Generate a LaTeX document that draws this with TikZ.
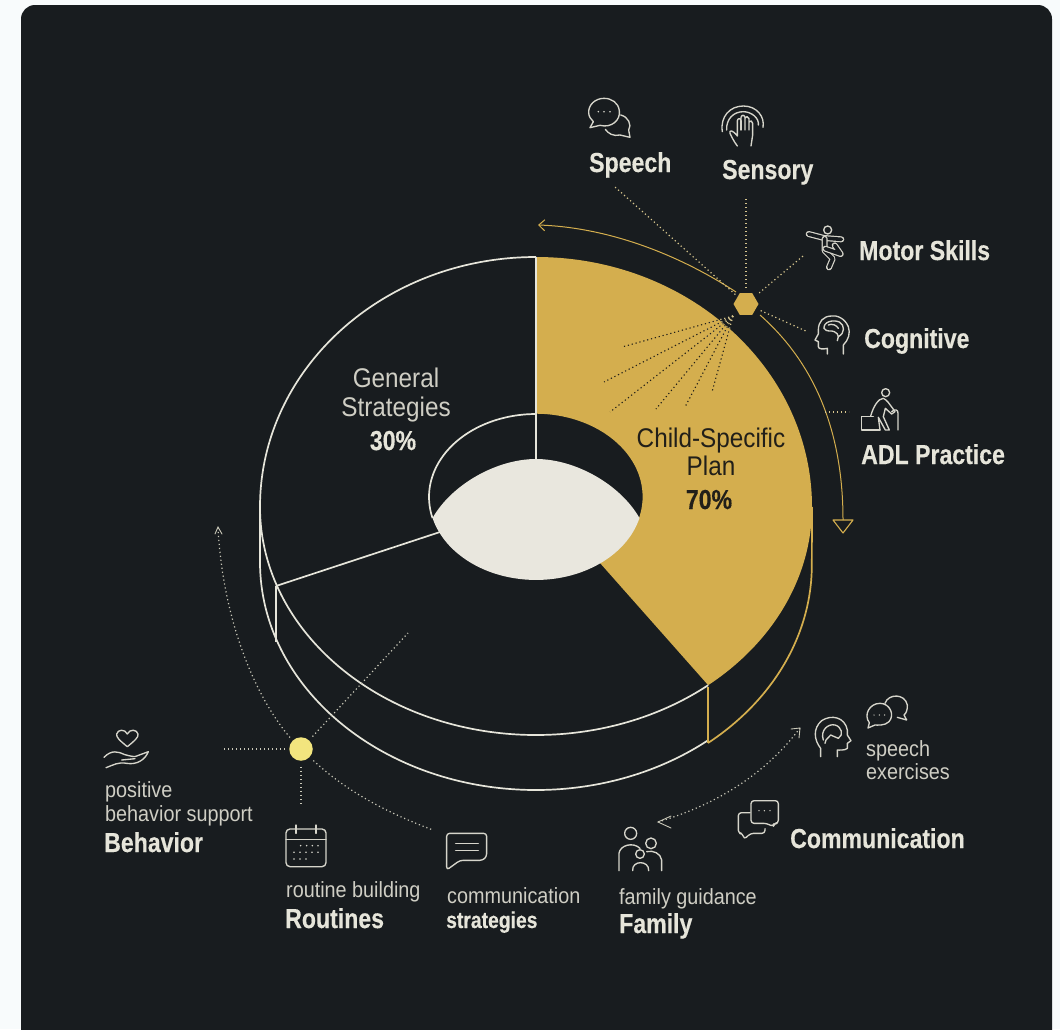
\documentclass[tikz,border=0pt]{standalone}
\usepackage{fontspec}
\setmainfont[FakeStretch=0.9,BoldFeatures={FakeStretch=0.84,FakeBold=0.35}]{Liberation Sans}
\usetikzlibrary{arrows.meta,shapes.geometric,calc}
\definecolor{pagebg}{HTML}{F8FBFC}
\definecolor{panel}{HTML}{181C1F}
\definecolor{gold}{HTML}{D4AE4E}
\definecolor{cream}{HTML}{E6E5DA}
\definecolor{softtext}{HTML}{CFCEC4}
\definecolor{lens}{HTML}{E9E7DE}
\definecolor{ink}{HTML}{211F19}
\definecolor{palegold}{HTML}{D8C68E}
\definecolor{paledot}{HTML}{C9C8B8}
\definecolor{sun}{HTML}{F2E57E}
\definecolor{iconline}{HTML}{D6D5CB}
\tikzset{
  big/.style={font=\fontsize{27.5}{30}\selectfont\bfseries,text=cream,inner sep=0pt,anchor=base west},
  small/.style={font=\fontsize{22}{24}\selectfont,text=softtext,inner sep=0pt,anchor=base west},
  smallbold/.style={font=\fontsize{23}{25}\selectfont\bfseries,text=cream,inner sep=0pt,anchor=base west},
  mid/.style={font=\fontsize{27}{30}\selectfont,inner sep=0pt,anchor=base},
  midbold/.style={font=\fontsize{27.5}{30}\selectfont\bfseries,inner sep=0pt,anchor=base},
  rim/.style={draw=cream,line width=1.7pt},
  goldrim/.style={draw=gold,line width=1.7pt},
  dotA/.style={draw=palegold,line width=1.2pt,dash pattern=on 1.2pt off 2.8pt},
  dotB/.style={draw=paledot,line width=1.2pt,dash pattern=on 1.2pt off 2.8pt},
  icon/.style={draw=iconline,line width=1.35pt,line cap=round,line join=round},
  limb/.style={draw=iconline,line width=1.2pt,double=panel,double distance=3.6pt,line cap=round,line join=round},
  zoomA/.style={shift={(530,80)},x=0.33333pt,y=-0.33333pt},
  zoomB/.style={shift={(80,680)},x=0.33333pt,y=-0.33333pt},
  zoomC/.style={shift={(590,660)},x=0.33333pt,y=-0.33333pt},
}
\begin{document}
\begin{tikzpicture}[x=1pt,y=-1pt]
\useasboundingbox (0,0) rectangle (1060,1029);
\fill[pagebg] (0,0) rectangle (1060,1029);
\fill[panel,rounded corners=14pt] (21,5) rectangle (1052,1060);

% gold sector
\def\goldshape{(536,257) arc[x radius=276,y radius=250,start angle=270,end angle=360]
  arc[x radius=276,y radius=228,start angle=0,end angle=51.4]
  -- (600,563)
  arc[x radius=107,y radius=83,start angle=53,end angle=-90] -- cycle}
\fill[gold] \goldshape;

% rays inside the gold sector
\coordinate (rayhub) at (733,316);
\foreach \ex/\ey in {622/347,604/382,610/412,656/409,685/407,712/392}{
  \draw[dotA] (rayhub) -- ($(rayhub)!0.22!(\ex,\ey)$);
}
\begin{scope}
  \clip \goldshape;
  \foreach \ex/\ey in {622/347,604/382,610/412,656/409,685/407,712/392}{
    \draw[line width=1.1pt,draw=ink,dash pattern=on 1.2pt off 2.8pt] (rayhub) -- (\ex,\ey);
  }
\end{scope}

% disc outlines
\draw[rim] (536,257) arc[x radius=276,y radius=250,start angle=270,end angle=180]
  arc[x radius=276,y radius=228,start angle=180,end angle=51.4];
\draw[rim] (260,507) -- (260,562) arc[x radius=276,y radius=228,start angle=180,end angle=51.4];
\draw[goldrim] (708,743) arc[x radius=276,y radius=228,start angle=51.4,end angle=0] -- (812,507);
\draw[goldrim] (708,687) -- (708,743);
\draw[rim] (276,586) -- (276,642);
\draw[rim] (276,586) -- (440,532);
\draw[rim] (536,257) -- (536,459);
\draw[rim] (536,414) arc[x radius=107,y radius=83,start angle=270,end angle=165.3];

% centre lens
\fill[lens] (639.5,518) arc[x radius=107,y radius=83,start angle=14.7,end angle=165.3]
  .. controls (452,484) and (497,459) .. (536,459) .. controls (575,459) and (620,484) .. cycle;

% sector labels
\node[mid,text=softtext] (lgen) at (396,387) {General};
\node[mid,text=softtext] (lstr) at (396,416) {Strategies};
\node[midbold,text=cream] (l30) at (393,450) {30\%};
\node[mid,text=ink] (lchild) at (711,447) {Child-Specific};
\node[mid,text=ink] (lplan) at (711,475) {Plan};
\node[midbold,text=ink] (l70) at (709,509) {70\%};

% hubs
\node[regular polygon,regular polygon sides=6,minimum size=25pt,inner sep=0pt,fill=gold] (hubA) at (746,304) {};
\node[circle,minimum size=23.5pt,inner sep=0pt,fill=sun] (hubB) at (301,749) {};

% gold direction arcs
\coordinate (arcAstart) at (736,292);
\coordinate (arcBstart) at (760,315);
\draw[draw=gold,line width=1pt,-{Straight Barb[length=6pt,width=11pt]}]
  (arcAstart) .. controls (670,249) and (600,227) .. (538,225);
\draw[draw=gold,line width=1pt] (arcBstart) .. controls (820,368) and (843,440) .. (843,520);
\coordinate (triA) at (833,520);\coordinate (triB) at (853,520);\coordinate (triC) at (843,533);
\draw[draw=gold,line width=1.1pt,line join=round] (triA) -- (triB) -- (triC) -- cycle;

% hub A connectors
\coordinate (cSpeech) at (615,187);
\coordinate (cSensory) at (746,197);
\coordinate (cMotor) at (803,256);
\coordinate (cCog) at (808,332);
\coordinate (cAdlA) at (825,412);
\coordinate (cAdlB) at (849,412);
\draw[dotA,shorten <=3pt] (hubA) -- (cSpeech);
\draw[dotA,shorten <=5pt] (hubA) -- (cSensory);
\draw[dotA,shorten <=6pt] (hubA) -- (cMotor);
\draw[dotA,shorten <=5pt] (hubA) -- (cCog);
\draw[dotA] (cAdlA) -- (cAdlB);

% hub B connectors
\coordinate (cBeh) at (224,749);
\coordinate (cRou) at (301,806);
\coordinate (cCom) at (433,830);
\coordinate (cDisc) at (408,633);
\coordinate (cUp) at (218,527);
\draw[dotB,shorten <=4pt] (hubB) -- (cBeh);
\draw[dotB,shorten <=6pt] (hubB) -- (cRou);
\draw[dotB,shorten <=5pt] (hubB) .. controls (345,790) and (385,812) .. (cCom);
\draw[dotB,shorten <=5pt] (hubB) -- (cDisc);
\draw[dotB,shorten <=4pt] (hubB.135) .. controls (250,690) and (222,610) .. (cUp);
\draw[draw=paledot,line width=0.9pt,line cap=round] (215,534) -- (cUp) -- (222,534);

% family / speech double arrow
\coordinate (dblA) at (800,728);
\coordinate (dblB) at (658,822);
\draw[dotB] (dblA) .. controls (765,775) and (715,805) .. (dblB);
\draw[draw=paledot,line width=0.9pt,line cap=round] (791,729) -- (dblA) -- (799,738);
\draw[draw=paledot,line width=0.9pt,line cap=round] (671,816) -- (dblB) -- (671,828);

% labels
\node[big] (tSpeech) at (589,172) {Speech};
\node[big] (tSensory) at (722,179) {Sensory};
\node[big] (tMotor) at (859,260) {Motor Skills};
\node[big] (tCog) at (864,348) {Cognitive};
\node[big] (tAdl) at (861,464) {ADL Practice};
\node[small] (tPos) at (105,797) {positive};
\node[small] (tPbs) at (105,821) {behavior support};
\node[big] (tBeh) at (104,852) {Behavior};
\node[small] (tRb) at (286,897) {routine building};
\node[big] (tRou) at (285,928) {Routines};
\node[small] (tCs) at (447,903) {communication};
\node[smallbold] (tStr) at (446,928) {strategies};
\node[small] (tSp) at (866,756) {speech};
\node[small] (tEx) at (866,779) {exercises};
\node[big] (tComm) at (790,848) {Communication};
\node[small] (tFg) at (619,904) {family guidance};
\node[big] (tFam) at (619,933) {Family};

% icons, upper right
\begin{scope}[zoomA]
  % speech
  \draw[icon] (210,136) .. controls (245,145) and (272,120) .. (268,92) .. controls (265,68) and (245,55) .. (222,55)
    .. controls (195,55) and (175,75) .. (176,98) .. controls (176,108) and (182,118) .. (190,125) -- (180,143) -- cycle;
  \draw[icon] (272,105) .. controls (295,110) and (306,135) .. (296,150) -- (300,172) -- (270,165) .. controls (250,170) and (234,160) .. (226,148);
  \foreach \q in {205,222,240} \fill[iconline] (\q,95) circle[radius=2.6];
  % sensory
  \draw[icon] (577,155) .. controls (570,110) and (600,78) .. (640,78) .. controls (680,78) and (705,110) .. (699,142);
  \draw[icon] (590,150) .. controls (588,118) and (610,95) .. (640,95) .. controls (665,95) and (688,115) .. (685,135);
  \draw[icon] (622,198) .. controls (610,182) and (605,170) .. (600,160) .. controls (597,150) and (607,148) .. (622,168)
    -- (622,122) .. controls (623,114) and (632,114) .. (633,122) -- (633,112) .. controls (635,104) and (643,104) .. (645,112)
    -- (645,150) -- (645,114) .. controls (647,108) and (655,108) .. (657,116) -- (657,150) -- (657,126) .. controls (660,120) and (668,122) .. (668,130)
    -- (668,165) -- (663,198);
  \draw[icon] (633,122) -- (633,150);
  % motor skills
  \draw[icon] (893,450) circle[radius=12];
  \draw[limb] (836,462) -- (882,474) -- (934,478);
  \draw[limb] (884,476) -- (884,512) -- (908,536) -- (897,562);
  \draw[limb] (886,506) -- (932,522) -- (914,496);
  % cognitive
  \draw[icon] (940,822) -- (940,795) .. controls (955,780) and (962,760) .. (955,740) .. controls (945,715) and (920,705) .. (905,708)
    .. controls (880,708) and (865,725) .. (865,750) -- (865,762) -- (855,780) -- (865,785) -- (865,800) .. controls (865,808) and (880,808) .. (892,805) -- (892,822);
  \draw[icon] (882,745) .. controls (880,725) and (910,718) .. (928,726) .. controls (945,735) and (945,760) .. (925,770) -- (922,782);
  \draw[icon] (882,745) .. controls (890,758) and (905,750) .. (913,755) .. controls (920,760) and (925,762) .. (925,770);
  \draw[icon] (895,735) .. controls (905,730) and (920,735) .. (925,745);
  % ADL
  \draw[icon] (1067,938) circle[radius=12];
  \draw[icon] (995,1050) -- (995,1010) -- (1030,1010) (995,1050) -- (1050,1050);
  \draw[icon] (1022,1008) .. controls (1030,980) and (1045,955) .. (1060,955) .. controls (1072,960) and (1080,975) .. (1088,985) -- (1095,995) -- (1085,1002) -- (1066,985) -- (1060,1010) -- (1078,1050) -- (1066,1050) -- (1045,1012) -- (1050,1050);
  \draw[icon] (1085,995) .. controls (1095,985) and (1105,990) .. (1104,1000) -- (1104,1050);
\end{scope}

% icons, lower left
\begin{scope}[zoomB]
  \draw[icon] (142,200) .. controls (120,182) and (108,172) .. (110,162) .. controls (113,148) and (135,146) .. (142,162) .. controls (149,146) and (171,148) .. (174,162) .. controls (176,172) and (164,182) .. (142,200);
  \draw[icon] (72,232) .. controls (95,208) and (115,215) .. (135,224) .. controls (150,228) and (165,232) .. (170,228) -- (205,215)
    .. controls (195,240) and (170,255) .. (140,250) .. controls (115,245) and (100,255) .. (78,263);
  \draw[icon] (125,240) -- (165,236);
  \draw[icon,rounded corners=4pt] (618,447) rectangle (738,560);
  \draw[icon] (618,478) -- (738,478);
  \draw[icon] (648,435) -- (648,460) (708,435) -- (708,460);
  \foreach \q in {662,680,697,714} \fill[iconline] (\q,497) circle[radius=2.6];
  \foreach \q in {642,660,678,696,714} \fill[iconline] (\q,517) circle[radius=2.6];
  \foreach \q in {642,660,678} \fill[iconline] (\q,537) circle[radius=2.6];
  \draw[icon,rounded corners=3pt] (1140,541) -- (1208,541) -- (1220,530) -- (1220,460) -- (1100,460) -- (1100,570) -- cycle;
  \draw[icon] (1127,490) -- (1195,490) (1127,512) -- (1195,512);
\end{scope}

% icons, lower right
\begin{scope}[zoomC]
  \draw[icon] (692,290) -- (692,265) .. controls (672,240) and (668,205) .. (695,182) .. controls (725,162) and (765,172) .. (772,210) -- (772,225) -- (783,242) -- (772,250) -- (772,265) .. controls (765,272) and (745,270) .. (742,270) -- (742,290);
  \draw[icon] (700,240) .. controls (690,210) and (715,190) .. (735,195) .. controls (755,200) and (762,225) .. (745,235) -- (722,225) -- (708,240) -- (705,250);
  \draw[icon] (834,204) -- (838,188) .. controls (820,165) and (838,130) .. (870,130) .. controls (900,130) and (915,165) .. (897,185) .. controls (885,198) and (860,195) .. (855,195) -- cycle;
  \draw[icon] (885,130) .. controls (895,100) and (945,100) .. (952,135) .. controls (953,150) and (948,160) .. (942,165) -- (950,180) -- (922,172);
  \foreach \q in {852,868,884} \fill[iconline] (\q,165) circle[radius=2.2];
  \draw[icon,rounded corners=3pt] (483,422) -- (565,422) -- (565,490) -- (552,490) -- (550,500) -- (530,490) -- (483,490) -- cycle;
  \draw[icon,rounded corners=3pt] (480,458) -- (445,458) -- (445,520) -- (458,520) -- (462,538) -- (482,520) -- (525,520) -- (525,506);
  \foreach \q in {507,523,540} \fill[iconline] (\q,452) circle[radius=2.2];
  \draw[icon] (122,520) circle[radius=18];
  \draw[icon] (87,632) -- (87,580) .. controls (90,555) and (130,545) .. (150,565);
  \draw[icon] (183,550) circle[radius=16];
  \draw[icon] (215,632) -- (215,600) .. controls (212,580) and (190,570) .. (170,575);
  \draw[icon] (150,582) circle[radius=13];
  \draw[icon] (128,632) .. controls (125,600) and (178,600) .. (176,632);
\end{scope}
\end{tikzpicture}
\end{document}
